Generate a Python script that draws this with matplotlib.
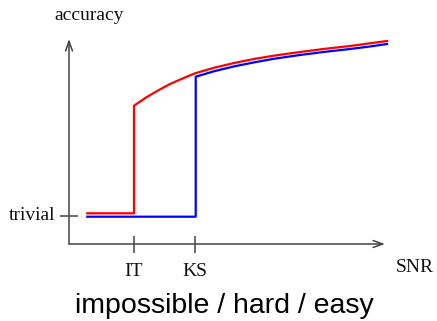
import matplotlib
matplotlib.use("Agg")
import matplotlib.pyplot as plt

# Data (units: arbitrary SNR / accuracy scale)
red_snr = [1.83, 6.5, 6.5, 7.7, 8.9, 10.1, 11.4, 12.6, 14.6, 16.6, 18.6, 20.6, 23.1, 25.6, 28.1, 30.1, 31.8]
red_acc = [3.07, 3.07, 13.83, 14.65, 15.35, 16.0, 16.57, 17.07, 17.65, 18.12, 18.52, 18.85, 19.2, 19.52, 19.8, 20.07, 20.3]
blue_snr = [1.83, 12.67, 12.67, 14.6, 16.6, 18.6, 20.6, 23.1, 25.6, 28.1, 30.1, 31.8]
blue_acc = [2.73, 2.73, 16.73, 17.3, 17.78, 18.18, 18.54, 18.9, 19.22, 19.5, 19.75, 20.0]

x_ticks = [6.5, 12.6]
x_tick_labels = ["IT", "KS"]
y_ticks = [2.8]
y_tick_labels = ["trivial"]

fig = plt.figure(figsize=(4.37, 3.21), dpi=100)
ax = fig.add_axes([0, 0, 1, 1])
ax.set_xlim(-6.9, 36.8)
ax.set_ylim(-7.7, 24.4)
ax.axis("off")

axis_color = "#444444"
# axes arrows
ax.annotate("", xy=(31.6, 0), xytext=(0, 0),
            arrowprops=dict(arrowstyle="->,head_length=0.7,head_width=0.25",
                            color=axis_color, lw=1.1, shrinkA=0, shrinkB=0))
ax.annotate("", xy=(0, 20.5), xytext=(0, 0),
            arrowprops=dict(arrowstyle="->,head_length=0.7,head_width=0.25",
                            color=axis_color, lw=1.1, shrinkA=0, shrinkB=0))

serif = ["Liberation Serif", "DejaVu Serif"]
sans = ["Liberation Sans", "DejaVu Sans"]

for xt, lab in zip(x_ticks, x_tick_labels):
    ax.plot([xt, xt], [0.8, -0.9], color=axis_color, lw=1.1, solid_capstyle="butt")
    ax.text(xt, -2.7, lab, ha="center", va="center", fontsize=14, family=serif, color="#111111")
for yt, lab in zip(y_ticks, y_tick_labels):
    ax.plot([-0.9, 0.9], [yt, yt], color=axis_color, lw=1.1, solid_capstyle="butt")
    ax.text(-1.4, yt, lab, ha="right", va="center", fontsize=14, family=serif, color="#111111")

ax.plot(red_snr, red_acc, color="#ff0000", lw=1.6)
ax.plot(blue_snr, blue_acc, color="#0000ff", lw=1.6)

ax.text(2.05, 22.9, "accuracy", ha="center", va="center", fontsize=14, family=serif, color="#111111")
ax.text(34.6, -2.3, "SNR", ha="center", va="center", fontsize=14, family=serif, color="#111111")
ax.text(15.5, -6.2, "impossible / hard / easy", ha="center", va="center", fontsize=20.5,
        family=sans, color="#000000")

fig.savefig("out.png", dpi=100)
